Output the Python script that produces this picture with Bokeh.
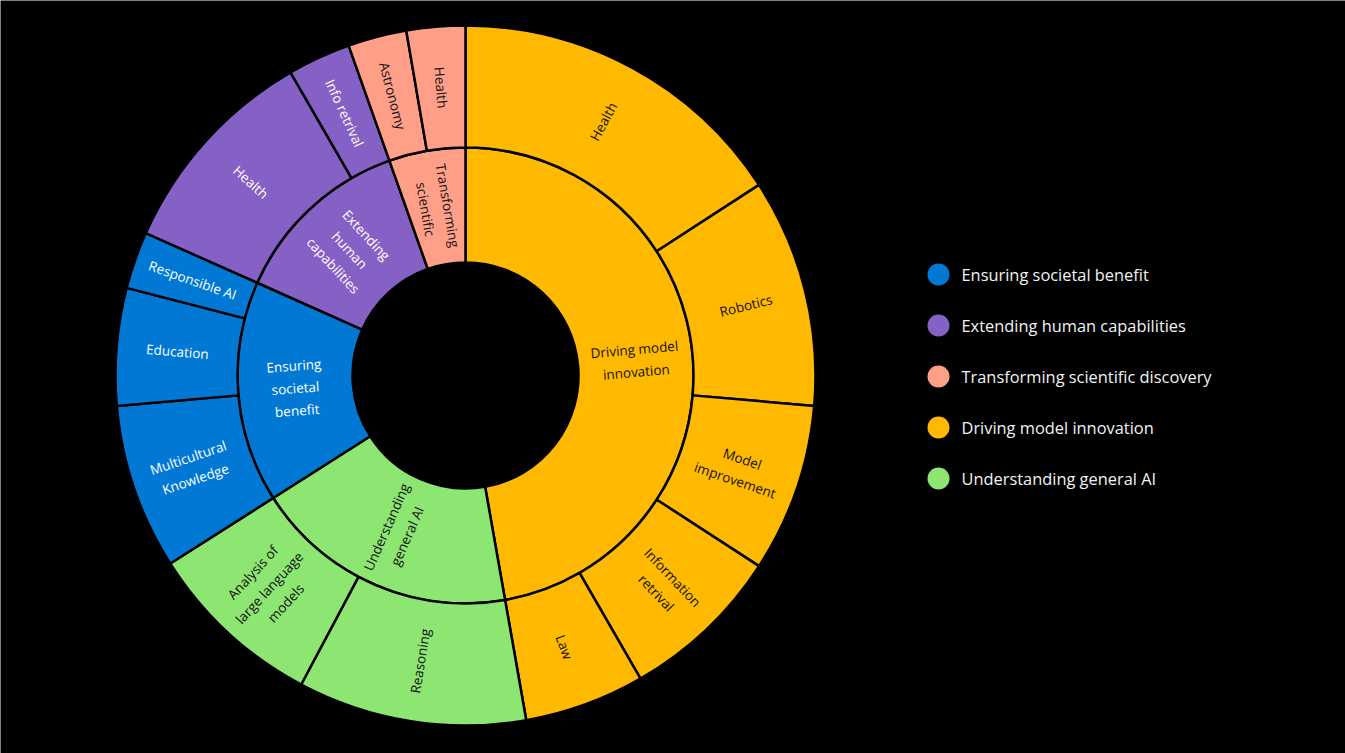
import numpy as np
from bokeh.plotting import figure
from bokeh.models import Range1d, ColumnDataSource
from bokeh.core.properties import value
from bokeh.embed import file_html
from bokeh.resources import INLINE

# ---------------- data ----------------
parents = ["Driving model innovation", "Understanding general AI",
           "Ensuring societal benefit", "Extending human capabilities",
           "Transforming scientific discovery"]
parent_labels = ["Driving model\ninnovation", "Understanding\ngeneral AI",
                 "Ensuring\nsocietal\nbenefit", "Extending\nhuman\ncapabilities",
                 "Transforming\nscientific"]
legend_order = ["Ensuring societal benefit", "Extending human capabilities",
                "Transforming scientific discovery", "Driving model innovation",
                "Understanding general AI"]

child_parent = ["Driving model innovation"] * 5 + ["Understanding general AI"] * 2 + \
               ["Ensuring societal benefit"] * 3 + ["Extending human capabilities"] * 2 + \
               ["Transforming scientific discovery"] * 2
child_labels = ["Health", "Robotics", "Model\nimprovement", "Information\nretrival", "Law",
                "Reasoning", "Analysis of\nlarge language\nmodels",
                "Multicultural\nKnowledge", "Education", "Responsible AI",
                "Health", "Info retrival",
                "Astronomy", "Health"]
child_values = [57, 38, 28, 27, 20,
                38, 29.5,
                27.5, 19.5, 9.5,
                36, 10.5,
                9.75, 9.75]

# ---------------- style ----------------
colors = {"Driving model innovation": "#FFB900",
          "Understanding general AI": "#8EE672",
          "Ensuring societal benefit": "#0078D4",
          "Extending human capabilities": "#8661C5",
          "Transforming scientific discovery": "#FF9F88"}
text_colors = {"Driving model innovation": "#111111",
               "Understanding general AI": "#111111",
               "Ensuring societal benefit": "#ffffff",
               "Extending human capabilities": "#ffffff",
               "Transforming scientific discovery": "#111111"}
FONT = "Open Sans"
R_HOLE, R_MID, R_OUT = 113, 228, 350

W, H = 1345, 753
CX, CY = 465, 375  # centre of the sunburst in figure pixels (from top-left)

p = figure(width=W, height=H, output_backend="svg", toolbar_location=None,
           x_range=Range1d(-CX, W - CX), y_range=Range1d(-(H - CY), CY),
           min_border=0, background_fill_color="black", border_fill_color="black",
           outline_line_color=None)
p.axis.visible = False
p.grid.visible = False


def ring(labels, vals, pars, r0, r1):
    vals = np.array(vals, dtype=float)
    total = vals.sum()
    cum = np.concatenate([[0], np.cumsum(vals)]) / total * 2 * np.pi
    th0, th1 = cum[:-1], cum[1:]
    thm = (th0 + th1) / 2
    a0 = np.pi / 2 - th0
    a1 = np.pi / 2 - th1
    am = np.pi / 2 - thm
    rm = (r0 + r1) / 2
    rot = np.where(thm <= np.pi, am, am + np.pi)
    src = ColumnDataSource(dict(
        start=a0, end=a1, fill=[colors[q] for q in pars],
        tx=rm * np.cos(am), ty=rm * np.sin(am), rot=rot,
        label=labels, tcol=[text_colors[q] for q in pars]))
    p.annular_wedge(x=0, y=0, inner_radius=r0, outer_radius=r1,
                    start_angle="start", end_angle="end", direction="clock",
                    fill_color="fill", line_color="black", line_width=2.5,
                    source=src)
    p.text(x="tx", y="ty", text="label", angle="rot", text_color="tcol",
           text_font=value(FONT), text_font_size="13.5px", text_align="center",
           text_baseline="middle", text_line_height=1.25, source=src)


parent_values = [sum(v for v, q in zip(child_values, child_parent) if q == par) for par in parents]
ring(parent_labels, parent_values, parents, R_HOLE, R_MID)
ring(child_labels, child_values, child_parent, R_MID, R_OUT)

# ---------------- legend ----------------
n = len(legend_order)
lx = 473
ly = 101 - 51 * np.arange(n)
leg = ColumnDataSource(dict(x=[lx] * n, y=ly, tx=[lx + 23] * n, label=legend_order,
                            fill=[colors[q] for q in legend_order]))
p.scatter(x="x", y="y", size=22, marker="circle", fill_color="fill",
          line_color=None, source=leg)
p.text(x="tx", y="y", text="label", text_color="#f2f2f2", text_font=value(FONT),
       text_font_size="16.4px", text_baseline="middle", text_align="left", source=leg)

html = file_html(p, INLINE)
html = html.replace("<body>", '<body style="margin:0;overflow:hidden;background-color:#000000;">', 1)
open("out.html", "w").write(html)
